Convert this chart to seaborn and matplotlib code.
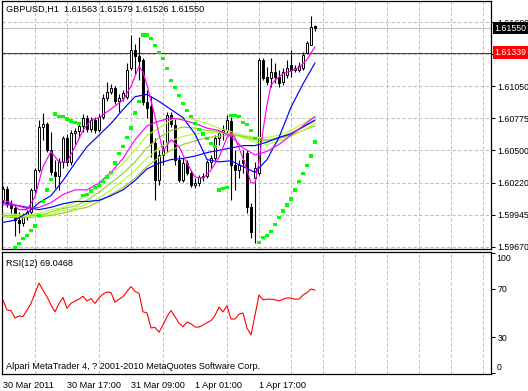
import numpy as np
import pandas as pd
import seaborn as sns
import matplotlib
matplotlib.use('Agg')
import matplotlib.pyplot as plt
import matplotlib.transforms as mtransforms

sns.set_style('white')
plt.rcParams['font.family'] = ['Liberation Sans', 'DejaVu Sans']
plt.rcParams['lines.scale_dashes'] = False
plt.rcParams['axes.edgecolor'] = 'black'
plt.rcParams['text.color'] = 'black'
plt.rcParams['xtick.color'] = 'black'
plt.rcParams['ytick.color'] = 'black'

# GBPUSD H1 candles
opens = [1.60073, 1.60168, 1.60039, 1.60004, 1.59901, 1.59875, 1.59927, 1.59970, 1.60159, 1.60331,
         1.60700, 1.60726, 1.60503, 1.60314, 1.60279, 1.60399, 1.60606, 1.60399, 1.60649, 1.60666,
         1.60709, 1.60777, 1.60683, 1.60760, 1.60674, 1.60786, 1.60949, 1.61001, 1.61035, 1.60923,
         1.60949, 1.60958, 1.61207, 1.61362, 1.61310, 1.61276, 1.60915, 1.60880, 1.60563, 1.60245,
         1.60460, 1.60571, 1.60803, 1.60717, 1.60417, 1.60245, 1.60391, 1.60305, 1.60202, 1.60219,
         1.60271, 1.60279, 1.60399, 1.60434, 1.60606, 1.60649, 1.60674, 1.60752, 1.60374, 1.60331,
         1.60417, 1.60477, 1.60013, 1.60262, 1.60305, 1.61276, 1.61130, 1.61121, 1.61173, 1.61130,
         1.61087, 1.61147, 1.61233, 1.61190, 1.61190, 1.61207, 1.61336, 1.61404, 1.61563]
highs = [1.60193, 1.60193, 1.60073, 1.60030, 1.59970, 1.59961, 1.59987, 1.60176, 1.60348, 1.60760,
         1.60820, 1.60743, 1.60657, 1.60417, 1.60434, 1.60623, 1.60640, 1.60674, 1.60692, 1.60726,
         1.60812, 1.60803, 1.60786, 1.60786, 1.60812, 1.60984, 1.61087, 1.61069, 1.61052, 1.60984,
         1.61018, 1.61250, 1.61490, 1.61413, 1.61473, 1.61293, 1.61018, 1.60966, 1.60606, 1.60503,
         1.60588, 1.60829, 1.60829, 1.60777, 1.60460, 1.60434, 1.60417, 1.60331, 1.60262, 1.60288,
         1.60305, 1.60417, 1.60460, 1.60631, 1.60674, 1.60717, 1.60803, 1.60786, 1.60503, 1.60417,
         1.60503, 1.60503, 1.60047, 1.60399, 1.61293, 1.61293, 1.61215, 1.61293, 1.61250, 1.61190,
         1.61207, 1.61276, 1.61362, 1.61233, 1.61258, 1.61344, 1.61439, 1.61654, 1.61579]
lows = [1.60047, 1.60013, 1.59953, 1.59764, 1.59790, 1.59850, 1.59901, 1.59944, 1.60133, 1.60314,
        1.60588, 1.60485, 1.60288, 1.60176, 1.60159, 1.60348, 1.60365, 1.60374, 1.60554, 1.60606,
        1.60657, 1.60657, 1.60657, 1.60649, 1.60657, 1.60769, 1.60923, 1.60984, 1.60898, 1.60829,
        1.60923, 1.60941, 1.61190, 1.61155, 1.61104, 1.60889, 1.60777, 1.60442, 1.60073, 1.60202,
        1.60374, 1.60485, 1.60700, 1.60374, 1.60228, 1.60228, 1.60288, 1.60185, 1.60176, 1.60193,
        1.60236, 1.60262, 1.60348, 1.60417, 1.60545, 1.60588, 1.60649, 1.60073, 1.60159, 1.60262,
        1.60305, 1.59961, 1.59747, 1.59704, 1.60288, 1.61104, 1.61061, 1.61044, 1.61078, 1.61044,
        1.61061, 1.61121, 1.61130, 1.61173, 1.61173, 1.61190, 1.61327, 1.61404, 1.61526]
closes = [1.60168, 1.60039, 1.60004, 1.59901, 1.59875, 1.59927, 1.59970, 1.60159, 1.60331, 1.60700,
          1.60726, 1.60503, 1.60314, 1.60279, 1.60399, 1.60606, 1.60399, 1.60649, 1.60666, 1.60709,
          1.60777, 1.60683, 1.60760, 1.60674, 1.60786, 1.60949, 1.61001, 1.61035, 1.60923, 1.60949,
          1.60992, 1.61190, 1.61362, 1.61310, 1.61267, 1.60915, 1.60863, 1.60563, 1.60245, 1.60460,
          1.60503, 1.60803, 1.60726, 1.60417, 1.60245, 1.60391, 1.60305, 1.60202, 1.60219, 1.60271,
          1.60279, 1.60399, 1.60434, 1.60606, 1.60649, 1.60674, 1.60760, 1.60374, 1.60331, 1.60374,
          1.60391, 1.60013, 1.59798, 1.60348, 1.61276, 1.61121, 1.61087, 1.61173, 1.61130, 1.61078,
          1.61173, 1.61207, 1.61190, 1.61207, 1.61224, 1.61319, 1.61422, 1.61559, 1.61550]

# moving averages, read every 3 bars
ma_bars = [0, 3, 6, 9, 12, 15, 18, 21, 24, 27, 30, 33, 36, 39, 42, 45, 48, 51, 54, 57, 60, 63, 66, 69, 72, 75, 78]
blue_fast = [1.5988, 1.5990, 1.5996, 1.6005, 1.6011, 1.6024, 1.6039, 1.6053, 1.6063, 1.6073, 1.6085, 1.6096, 1.6098, 1.6092,
             1.6085, 1.6078, 1.6064, 1.6042, 1.6040, 1.6041, 1.6036, 1.6031, 1.6042, 1.6061, 1.6087, 1.6107, 1.6125]
blue_slow = [1.6005, 1.6003, 1.6001, 1.5999, 1.6001, 1.6004, 1.6006, 1.6006, 1.6007, 1.6011, 1.6016, 1.6024, 1.6034, 1.6039,
             1.6042, 1.6043, 1.6045, 1.6048, 1.6050, 1.6052, 1.6054, 1.6054, 1.6057, 1.6061, 1.6064, 1.6070, 1.6076]
magenta_slow = [1.6003, 1.6003, 1.6000, 1.6001, 1.6005, 1.6012, 1.6016, 1.6016, 1.6022, 1.6031, 1.6043, 1.6059, 1.6071, 1.6075,
                1.6078, 1.6076, 1.6073, 1.6069, 1.6067, 1.6062, 1.6052, 1.6046, 1.6049, 1.6055, 1.6063, 1.6071, 1.6079]
green_1 = [1.5996, 1.5995, 1.5994, 1.5996, 1.5999, 1.6001, 1.6005, 1.6012, 1.6020, 1.6029, 1.6039, 1.6050, 1.6063, 1.6069,
           1.6076, 1.6078, 1.6076, 1.6073, 1.6069, 1.6066, 1.6063, 1.6061, 1.6061, 1.6063, 1.6067, 1.6073, 1.6079]
green_2 = [1.5994, 1.5994, 1.5994, 1.5994, 1.5997, 1.6000, 1.6002, 1.6007, 1.6014, 1.6022, 1.6030, 1.6040, 1.6052, 1.6061,
           1.6067, 1.6070, 1.6069, 1.6067, 1.6066, 1.6064, 1.6062, 1.6059, 1.6058, 1.6061, 1.6065, 1.6070, 1.6075]
green_3 = [1.5994, 1.5993, 1.5993, 1.5994, 1.5995, 1.5998, 1.6000, 1.6004, 1.6009, 1.6016, 1.6024, 1.6033, 1.6043, 1.6052,
           1.6058, 1.6062, 1.6064, 1.6065, 1.6065, 1.6064, 1.6061, 1.6057, 1.6055, 1.6058, 1.6062, 1.6067, 1.6073]
green_4 = [1.5993, 1.5992, 1.5992, 1.5993, 1.5994, 1.5996, 1.5999, 1.6001, 1.6006, 1.6012, 1.6018, 1.6026, 1.6036, 1.6044,
           1.6050, 1.6055, 1.6058, 1.6061, 1.6062, 1.6063, 1.6062, 1.6061, 1.6059, 1.6060, 1.6063, 1.6067, 1.6071]

# fast magenta MA
fm_bars = [0, 2, 4, 6, 8, 10, 12, 14, 16, 18, 20, 22, 24, 26, 28, 30, 32, 34, 35, 36, 38, 40, 42, 44, 46,
           48, 50, 52, 54, 56, 57, 58, 60, 61, 62, 63, 64, 65, 66, 67, 68, 70, 72, 74, 76, 78]
magenta_fast = [1.6007, 1.6005, 1.5999, 1.5999, 1.6010, 1.6036, 1.6049, 1.6040, 1.6040, 1.6053, 1.6067, 1.6076,
                1.6078, 1.6083, 1.6088, 1.6093, 1.6105, 1.6122, 1.6117, 1.6106, 1.6079, 1.6049, 1.6059, 1.6053,
                1.6039, 1.6027, 1.6026, 1.6033, 1.6044, 1.6061, 1.6064, 1.6061, 1.6043, 1.6033, 1.6022, 1.6022,
                1.6040, 1.6067, 1.6089, 1.6106, 1.6110, 1.6116, 1.6118, 1.6121, 1.6128, 1.6139]

# parabolic SAR (bars 3..78)
sar = [1.5966, 1.5970, 1.5974, 1.5977, 1.5981, 1.5985, 1.5994, 1.6006, 1.6016, 1.6025,
       1.6081, 1.6079, 1.6079, 1.6077, 1.6075, 1.6074, 1.6073,
       1.6011, 1.6012, 1.6015, 1.6018, 1.6020, 1.6023, 1.6027, 1.6031, 1.6039, 1.6047, 1.6053, 1.6061, 1.6069, 1.6082, 1.6092,
       1.6149, 1.6149, 1.6146, 1.6140, 1.6134, 1.6129, 1.6120, 1.6110, 1.6104, 1.6097, 1.6090, 1.6084, 1.6079, 1.6073,
       1.6068, 1.6064, 1.6060, 1.6056, 1.6053,
       1.6016, 1.6017, 1.6018,
       1.6080, 1.6080, 1.6079, 1.6074, 1.6072, 1.6067, 1.6060,
       1.5971, 1.5975, 1.5977, 1.5980, 1.5986, 1.5992, 1.5998, 1.6003, 1.6008, 1.6016, 1.6023, 1.6030, 1.6037, 1.6045, 1.6057]

rsi = [60.8, 52.5, 52, 45.8, 47.5, 47, 52.5, 58, 66.4, 75,
       69, 63.6, 56.7, 51, 58, 63, 54, 58, 60, 61.6,
       64, 60, 62, 58, 62.5, 65.8, 67.5, 67, 59, 61.5,
       63.6, 68, 72, 68, 66.4, 51, 50, 37.5, 38, 34,
       40, 47, 52, 47, 41.5, 38.6, 42.5, 41, 38.3, 38.3,
       40, 42, 43.6, 48, 55, 51, 56, 45, 45, 49,
       50, 37.5, 31.7, 48, 65, 61, 61.5, 61.5, 61, 60,
       61.5, 62.5, 62.5, 61.5, 61.5, 65, 67, 70, 69.05]

price_ticks = [1.59670, 1.59945, 1.60220, 1.60500, 1.60775, 1.61050, 1.61325, 1.61600]
# the 1.61325 label sits under the red price box in the reference
price_labels = ['1.59670', '1.59945', '1.60220', '1.60500', '1.60775', '1.61050', '', '1.61600']
time_ticks = [0, 16, 32, 48, 64]
time_labels = ['30 Mar 2011', '30 Mar 17:00', '31 Mar 09:00', '1 Apr 01:00', '1 Apr 17:00']
bid = 1.61550
alert = 1.61339

df = pd.DataFrame({'open': opens, 'high': highs, 'low': lows, 'close': closes})
df['bar'] = np.arange(len(df))
n = len(df)

W, H = 528, 391
def px_box(l, t, r, b):
    return [l / W, 1 - b / H, (r - l) / W, (b - t) / H]

fig = plt.figure(figsize=(W / 100, H / 100), dpi=100)
ax = fig.add_axes(px_box(2, 1, 491, 249))
ax2 = fig.add_axes(px_box(2, 252, 491, 374))

fs = 6.3
grid_kw = dict(color='#c0c0c0', linestyle=(0, (2.4, 1.6)), linewidth=0.75)

# candles
up = df['close'] >= df['open']
body_lo = np.minimum(df['open'], df['close'])
body_h = np.maximum((df['close'] - df['open']).abs(), 0.00002)
ax.vlines(df['bar'], df['low'], df['high'], color='black', linewidth=0.8, zorder=3)
ax.bar(df['bar'][up], body_h[up], bottom=body_lo[up], width=0.62, color='white',
       edgecolor='black', linewidth=0.7, zorder=4)
ax.bar(df['bar'][~up], body_h[~up], bottom=body_lo[~up], width=0.62, color='black',
       edgecolor='black', linewidth=0.7, zorder=4)

ma = pd.DataFrame({'bar': ma_bars, 'blue_slow': blue_slow, 'blue_fast': blue_fast, 'magenta_slow': magenta_slow,
                   'g1': green_1, 'g2': green_2, 'g3': green_3, 'g4': green_4})
for col, c in [('g4', '#9acd32'), ('g3', '#adff2f'), ('g2', '#9acd32'), ('g1', '#adff2f'),
               ('blue_slow', '#0000ff'), ('blue_fast', '#0000ff'), ('magenta_slow', '#ff00ff')]:
    sns.lineplot(data=ma, x='bar', y=col, ax=ax, color=c, linewidth=0.85, zorder=5)
sns.lineplot(x=fm_bars, y=magenta_fast, ax=ax, color='#ff00ff', linewidth=0.85, zorder=5)
sns.scatterplot(x=np.arange(3, n), y=sar, ax=ax, marker='s', s=6, color='#00ff00',
                edgecolor='none', linewidth=0, zorder=6)

ax.axhline(bid, color='#c0c0c0', linewidth=0.75, zorder=2)
ax.axhline(alert, color='#e00000', linewidth=0.75, zorder=2)

ax.set_xlim(-0.25, 122)
ax.set_ylim(1.59652, 1.61782)
ax.set_xticks(np.arange(8, 122, 8))
ax.tick_params(axis='x', length=0, labelbottom=False)
ax.yaxis.tick_right()
ax.set_yticks(price_ticks)
ax.set_yticklabels(price_labels)
ax.tick_params(axis='y', direction='out', length=3, width=0.75, pad=1.5, labelsize=fs)
ax.grid(True, **grid_kw)
ax.set_axisbelow(True)
ax.set_xlabel('')
ax.set_ylabel('')
for s in ax.spines.values():
    s.set_linewidth(0.9)

yt = mtransforms.blended_transform_factory(ax.transAxes, ax.transData)
ax.text(1.0075, bid, '1.61550', transform=yt, color='white', fontsize=fs, va='center', ha='left',
        bbox=dict(boxstyle='square,pad=0.18', fc='black', ec='none'), zorder=10, clip_on=False)
ax.text(1.0075, alert, '1.61339', transform=yt, color='white', fontsize=fs, va='center', ha='left',
        bbox=dict(boxstyle='square,pad=0.22', fc='#ff0000', ec='none'), zorder=10, clip_on=False)
ax.text(0.009, 0.965, 'GBPUSD,H1  1.61563 1.61579 1.61526 1.61550', transform=ax.transAxes,
        fontsize=fs + 0.3, va='center', ha='left', zorder=10)

# RSI
sns.lineplot(x=np.arange(n), y=rsi, ax=ax2, color='#ff0000', linewidth=0.8, zorder=5)
ax2.set_xlim(-0.25, 122)
ax2.set_ylim(-0.83, 100.83)
ax2.set_xticks(time_ticks)
ax2.set_xticklabels(time_labels, ha='left')
ax2.set_xticks(np.arange(8, 122, 8), minor=True)
ax2.tick_params(axis='x', which='major', direction='out', length=4, width=0.75, pad=1, labelsize=fs + 0.3)
ax2.tick_params(axis='x', which='minor', length=0)
ax2.yaxis.tick_right()
ax2.set_yticks([0, 30, 70, 100])
ax2.set_yticklabels(['', '30', '70', ''])
ax2.set_yticks([30, 70], minor=True)
ax2.tick_params(axis='y', which='major', direction='out', length=3, width=0.75, pad=1.5, labelsize=fs)
ax2.tick_params(axis='y', which='minor', length=0)
ax2.grid(True, which='minor', **grid_kw)
ax2.grid(False, which='major')
ax2.set_axisbelow(True)
ax2.set_xlabel('')
ax2.set_ylabel('')
for s in ax2.spines.values():
    s.set_linewidth(0.9)
yt2 = mtransforms.blended_transform_factory(ax2.transAxes, ax2.transData)
ax2.text(1.0105, 95.8, '100', transform=yt2, fontsize=fs, va='center', ha='left', clip_on=False)
ax2.text(1.0105, 5, '0', transform=yt2, fontsize=fs, va='center', ha='left', clip_on=False)
ax2.text(0.009, 0.905, 'RSI(12) 69.0468', transform=ax2.transAxes, fontsize=fs + 0.3, va='center', ha='left')
ax2.text(0.009, 0.065, 'Alpari MetaTrader 4, ? 2001-2010 MetaQuotes Software Corp.', transform=ax2.transAxes,
         fontsize=fs + 0.3, va='center', ha='left')

fig.savefig('out.png', dpi=100)
